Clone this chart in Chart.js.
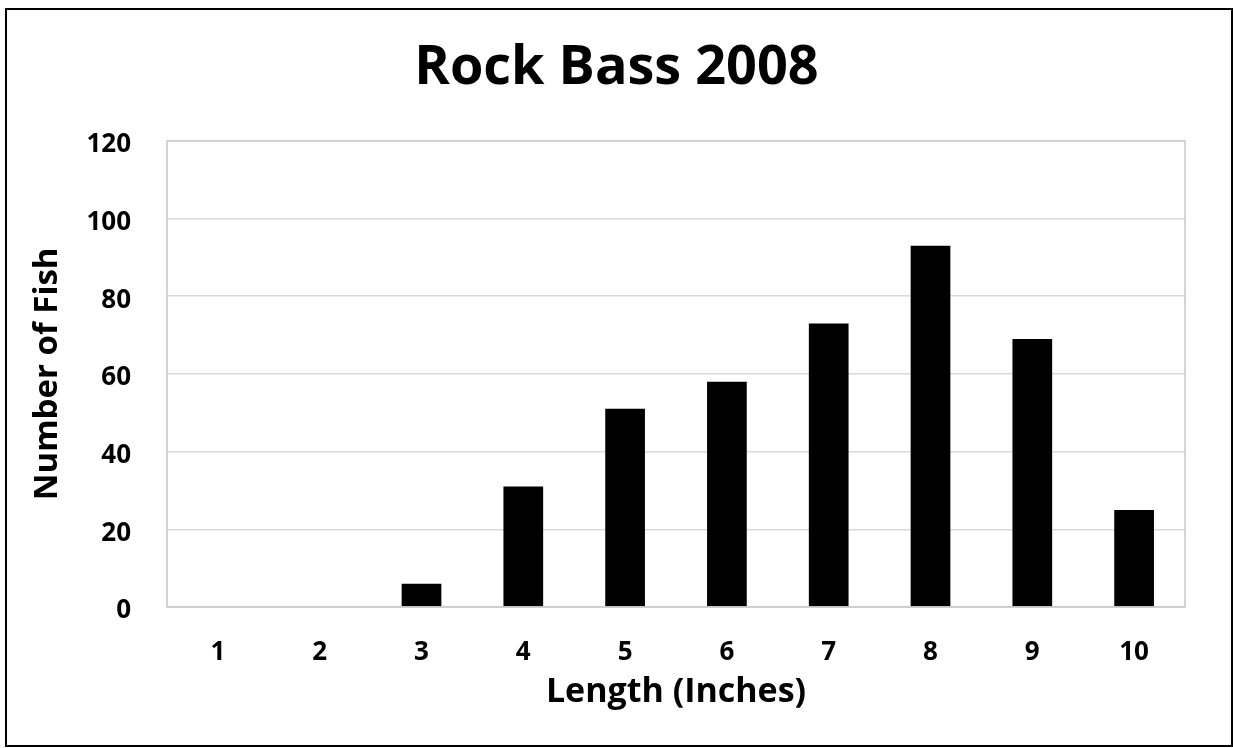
<!DOCTYPE html>
<html>
<head>
<meta charset="utf-8">
<title>Rock Bass 2008</title>
<script src="https://cdn.jsdelivr.net/npm/chart.js@4.4.1/dist/chart.umd.min.js"></script>
<style>
  html, body { margin: 0; padding: 0; background: #ffffff; }
  #wrap { width: 1233px; height: 748px; position: relative; }
  canvas { display: block; }
</style>
</head>
<body>
<div id="wrap"><canvas id="chart" width="1233" height="748"></canvas></div>
<script>
// Length classes (inches) and fish counts per class
const lengths = ['1', '2', '3', '4', '5', '6', '7', '8', '9', '10'];
const fishCounts = [0, 0, 6, 31, 51, 58, 73, 93, 69, 25];
const yTicks = [0, 20, 40, 60, 80, 100, 120];

const chartTitle = 'Rock Bass 2008';
const xTitle = 'Length (Inches)';
const yTitle = 'Number of Fish';

const FONT = "'Open Sans', 'DejaVu Sans', sans-serif";

// Outer frame around the whole figure and the grey box around the plot area
const framePlugin = {
  id: 'frame',
  beforeDraw(chart) {
    const ctx = chart.ctx;
    ctx.save();
    ctx.fillStyle = '#ffffff';
    ctx.fillRect(0, 0, chart.width, chart.height);
    ctx.restore();
  },
  afterDatasetsDraw(chart) {
    const { ctx, chartArea: a } = chart;
    ctx.save();
    ctx.strokeStyle = '#c8c8c8';
    ctx.lineWidth = 1.5;
    ctx.strokeRect(a.left, a.top, a.right - a.left, a.bottom - a.top);
    ctx.restore();
  },
  afterDraw(chart) {
    const ctx = chart.ctx;
    ctx.save();
    ctx.strokeStyle = '#000000';
    ctx.lineWidth = 2;
    ctx.strokeRect(6, 9, chart.width - 7, chart.height - 11);
    ctx.restore();
  }
};

new Chart(document.getElementById('chart'), {
  type: 'bar',
  data: {
    labels: lengths,
    datasets: [{
      label: yTitle,
      data: fishCounts,
      backgroundColor: '#000000',
      borderWidth: 0,
      barPercentage: 0.39,
      categoryPercentage: 1.0
    }]
  },
  options: {
    responsive: false,
    animation: false,
    devicePixelRatio: 1,
    layout: { padding: 0 },
    plugins: {
      legend: { display: false },
      tooltip: { enabled: false },
      title: {
        display: true,
        text: chartTitle,
        color: '#000000',
        font: { family: FONT, size: 54, weight: 'bold' },
        padding: { top: 36, bottom: 40 }
      }
    },
    scales: {
      x: {
        grid: { display: false, drawTicks: false },
        border: { display: false },
        ticks: {
          color: '#000000',
          padding: 30,
          font: { family: FONT, size: 26, weight: 'bold' }
        },
        title: {
          display: true,
          text: xTitle,
          color: '#000000',
          font: { family: FONT, size: 34, weight: 'bold' },
          padding: { top: 0, bottom: 35 }
        },
        afterFit(scale) { scale.height = 141; }
      },
      y: {
        min: 0,
        max: 120,
        afterBuildTicks(scale) { scale.ticks = yTicks.map(v => ({ value: v })); },
        grid: { color: '#d9d9d9', lineWidth: 1.5, drawTicks: false },
        border: { display: false },
        ticks: {
          color: '#000000',
          padding: 36,
          labelOffset: 4,
          font: { family: FONT, size: 26, weight: 'bold' }
        },
        title: {
          display: true,
          text: yTitle,
          color: '#000000',
          font: { family: FONT, size: 33, weight: 'bold' },
          padding: { top: 28, bottom: 0 }
        },
        afterFit(scale) { scale.width = 167; }
      },
      // empty right-hand margin so the plot ends where the title stays centred on the page
      right: {
        type: 'linear',
        position: 'right',
        display: true,
        grid: { display: false, drawTicks: false },
        border: { display: false },
        ticks: { display: false },
        afterFit(scale) { scale.width = 48; }
      }
    }
  },
  plugins: [framePlugin]
});
</script>
</body>
</html>
